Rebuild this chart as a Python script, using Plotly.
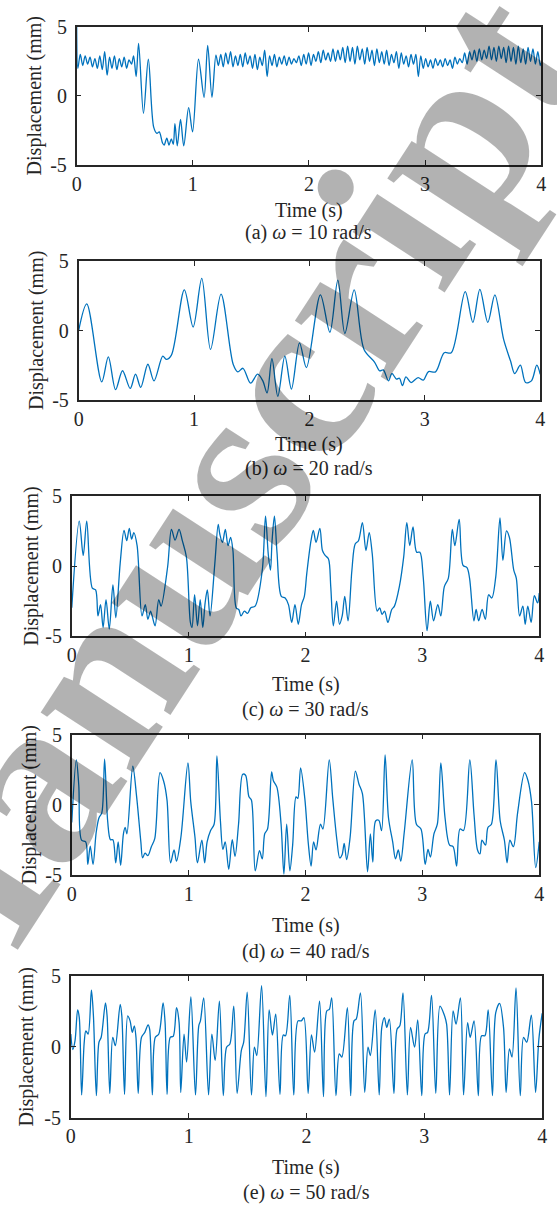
import plotly.graph_objects as go

W, H = 557, 1215

# ---------------- data ----------------
t_a = [0.000, 0.010, 0.031, 0.052, 0.073, 0.094, 0.115, 0.136, 0.157, 0.178,
       0.199, 0.220, 0.241, 0.262, 0.283, 0.304, 0.325, 0.346, 0.367, 0.388,
       0.409, 0.430, 0.451, 0.472, 0.490, 0.512, 0.533, 0.575, 0.617, 0.663,
       0.691, 0.711, 0.739, 0.753, 0.776, 0.795, 0.815, 0.832, 0.846, 0.866,
       0.894, 0.922, 0.964, 0.998, 1.049, 1.097, 1.128, 1.165, 1.199,
       1.220, 1.241, 1.262, 1.283, 1.304, 1.325, 1.346, 1.367, 1.388, 1.409,
       1.430, 1.451, 1.472, 1.493, 1.514, 1.535, 1.556, 1.577, 1.598, 1.619,
       1.640, 1.661, 1.682, 1.703, 1.724, 1.745, 1.766, 1.787, 1.808, 1.829,
       1.850, 1.871, 1.892, 1.913, 1.934, 1.955, 1.976, 1.997, 2.018, 2.039,
       2.060, 2.081, 2.102, 2.123, 2.144, 2.165, 2.186, 2.207, 2.228, 2.249,
       2.270, 2.291, 2.312, 2.333, 2.354, 2.375, 2.396, 2.417, 2.438, 2.459,
       2.480, 2.501, 2.522, 2.543, 2.564, 2.585, 2.606, 2.627, 2.648, 2.669,
       2.690, 2.711, 2.732, 2.753, 2.774, 2.795, 2.816, 2.837, 2.858, 2.879,
       2.900, 2.921, 2.942, 2.963, 2.984, 3.005, 3.026, 3.047, 3.068, 3.089,
       3.110, 3.131, 3.152, 3.173, 3.194, 3.215, 3.236, 3.257, 3.278, 3.299,
       3.320, 3.341, 3.362, 3.383, 3.404, 3.425, 3.446, 3.467, 3.488, 3.509,
       3.530, 3.551, 3.572, 3.593, 3.614, 3.635, 3.656, 3.677, 3.698, 3.719,
       3.740, 3.761, 3.782, 3.803, 3.824, 3.845, 3.866, 3.887, 3.908, 3.929,
       3.950, 3.971, 3.992, 4.000]
y_a = [5.0, 2.0, 3.0, 2.2, 2.9, 2.3, 2.8, 2.1, 2.7, 2.0,
       2.9, 1.9, 3.2, 1.5, 2.8, 2.0, 2.9, 1.9, 2.7, 2.1,
       2.8, 2.0, 2.6, 2.3, 2.9, 1.4, 3.8, -1.25, 2.65, -2.25,
       -2.7, -2.6, -3.4, -3.55, -3.05, -3.55, -3.1, -3.5, -2.0, -3.6,
       -1.7, -3.6, -0.85, -2.6, 2.65, -0.1, 3.65, -0.1, 2.95,
       2.2, 3.0, 2.1, 3.1, 2.3, 3.2, 2.1, 2.9, 2.2, 3.0,
       2.1, 3.1, 2.3, 2.9, 2.0, 3.0, 1.9, 2.8, 2.2, 3.3,
       1.4, 2.9, 2.2, 3.0, 2.1, 2.8, 2.3, 2.9, 2.2, 2.8,
       2.3, 2.7, 2.4, 2.9, 2.2, 3.0, 2.3, 3.1, 2.2, 3.0,
       2.5, 3.2, 2.4, 3.3, 2.6, 3.1, 2.5, 3.4, 2.5, 3.3,
       2.6, 3.5, 2.4, 3.6, 2.5, 3.5, 2.3, 3.6, 2.6, 3.4,
       2.3, 3.5, 2.5, 3.3, 2.2, 3.4, 2.4, 3.2, 2.3, 3.3,
       2.2, 3.0, 2.4, 3.2, 2.0, 3.1, 2.3, 2.9, 2.1, 3.0,
       2.3, 3.0, 1.4, 2.9, 2.0, 2.7, 2.1, 2.6, 2.0, 2.7,
       2.2, 2.6, 2.1, 2.7, 2.2, 2.6, 2.0, 2.8, 2.3, 2.7,
       2.4, 3.1, 2.3, 3.2, 2.6, 3.3, 2.5, 3.4, 2.6, 3.3,
       2.7, 3.6, 2.6, 3.5, 2.5, 3.6, 2.7, 3.5, 2.4, 3.6,
       2.5, 3.5, 2.3, 3.6, 2.4, 3.4, 2.3, 3.5, 2.5, 3.4,
       2.3, 3.2, 2.2, 2.4]

t_b = [0.0, 0.07, 0.2, 0.257, 0.32, 0.38, 0.447, 0.493, 0.538, 0.6,
       0.653, 0.729, 0.759, 0.804, 0.916, 0.992, 1.067, 1.143, 1.234, 1.339,
       1.379, 1.424, 1.49, 1.551, 1.596, 1.633, 1.675, 1.726, 1.787, 1.844,
       1.914, 1.974, 2.095, 2.177, 2.246, 2.307, 2.388, 2.473, 2.564, 2.609,
       2.64, 2.685, 2.715, 2.754, 2.78, 2.806, 2.836, 2.881, 2.942, 2.987,
       3.032, 3.093, 3.168, 3.229, 3.35, 3.416, 3.477, 3.546, 3.607, 3.683,
       3.743, 3.779, 3.828, 3.873, 3.924, 3.97, 4.0]
y_b = [0.0, 1.93, -3.7, -1.9, -4.27, -2.9, -4.18, -3.15, -4.1, -2.43,
       -3.63, -1.84, -2.08, -1.77, 2.94, 0.26, 3.77, -1.36, 2.63, -2.43,
       -2.98, -2.72, -3.8, -3.15, -3.63, -4.5, -2.03, -4.75, -1.84, -4.22,
       -0.88, -2.67, 2.58, -0.12, 3.65, -0.21, 2.94, -1.36, -2.27, -2.91,
       -2.84, -3.63, -3.1, -3.5, -3.44, -3.98, -3.34, -3.75, -3.39, -3.58,
       -2.96, -2.98, -1.6, -1.6, 2.82, 0.6, 2.98, 0.6, 2.58, -0.64,
       -2.2, -3.1, -2.5, -3.75, -3.63, -2.5, -3.15]

t_c = [0.0, 0.064, 0.098, 0.128, 0.176, 0.204, 0.224, 0.246, 0.268, 0.293,
       0.321, 0.352, 0.377, 0.414, 0.447, 0.47, 0.492, 0.512, 0.531, 0.559,
       0.601, 0.629, 0.651, 0.674, 0.688, 0.713, 0.744, 0.764, 0.82, 0.853,
       0.884, 0.918, 0.946, 0.981, 1.015, 1.029, 1.051, 1.076, 1.099, 1.121,
       1.141, 1.16, 1.183, 1.224, 1.253, 1.267, 1.289, 1.314, 1.337, 1.359,
       1.379, 1.407, 1.429, 1.448, 1.477, 1.504, 1.532, 1.569, 1.63, 1.658,
       1.681, 1.7, 1.714, 1.734, 1.756, 1.793, 1.826, 1.854, 1.882, 1.91,
       1.938, 1.966, 1.99, 2.011, 2.047, 2.067, 2.09, 2.123, 2.145, 2.168,
       2.196, 2.216, 2.238, 2.266, 2.291, 2.314, 2.336, 2.364, 2.397, 2.425,
       2.453, 2.487, 2.517, 2.545, 2.571, 2.613, 2.635, 2.655, 2.677, 2.705,
       2.738, 2.761, 2.803, 2.84, 2.867, 2.892, 2.92, 2.951, 2.979, 3.007,
       3.04, 3.068, 3.096, 3.132, 3.158, 3.188, 3.222, 3.256, 3.278, 3.315,
       3.348, 3.382, 3.404, 3.441, 3.46, 3.482, 3.511, 3.539, 3.567, 3.594,
       3.628, 3.664, 3.689, 3.72, 3.745, 3.782, 3.804, 3.832, 3.86, 3.88,
       3.902, 3.931, 3.958, 3.986, 4.0]
y_c = [-2.96, 3.22, 0.77, 3.22, -1.56, -1.68, -3.54, -2.73, -4.36, -2.38,
       -4.48, -1.33, -3.66, 0.19, 2.56, 1.82, 2.7, 1.93, 2.4, 1.47,
       -3.54, -2.73, -3.78, -3.19, -3.54, -4.24, -2.38, -2.84, -0.05, 2.63,
       1.86, 2.63, 1.82, 0.65, -4.0, -4.36, -2.03, -4.24, -2.38, -4.36,
       -2.61, -1.68, -3.54, 0.19, 2.98, 2.28, 1.7, 2.63, 1.47, 2.05,
       1.12, -2.96, -3.08, -3.54, -3.19, -3.36, -2.96, -2.84, -0.28, 3.57,
       0.89, -0.28, 1.82, 3.57, 1.0, -2.14, -2.26, -2.73, -4.0, -2.73,
       -4.13, -2.73, -2.14, -0.51, 1.82, 2.56, 1.7, 2.7, 1.12, 0.77,
       0.54, -1.45, -4.24, -2.49, -4.13, -3.54, -2.14, -3.89, -0.28, 1.59,
       1.82, 3.1, 1.12, 2.4, 0.89, -3.19, -2.96, -3.43, -3.19, -4.0,
       -3.08, -2.84, -1.45, 0.65, 3.1, 1.47, 2.8, 1.0, 1.0, -0.75,
       -4.59, -2.49, -3.89, -2.73, -3.54, -1.45, -0.86, 2.63, 1.47, 3.33,
       0.07, -0.09, -0.86, -3.89, -3.08, -3.89, -3.08, -3.78, -2.03, -2.26,
       -0.75, 3.45, 0.42, 2.52, 2.05, -0.28, -0.86, -3.54, -2.84, -4.13,
       -2.84, -4.0, -2.1, -2.61, -1.91]

t_d = [0.0, 0.039, 0.06, 0.084, 0.119, 0.137, 0.158, 0.182, 0.209, 0.233,
       0.257, 0.281, 0.307, 0.331, 0.352, 0.376, 0.397, 0.418, 0.442, 0.457,
       0.472, 0.522, 0.555, 0.591, 0.606, 0.627, 0.651, 0.681, 0.71, 0.755,
       0.785, 0.815, 0.845, 0.875, 0.896, 0.934, 0.994, 1.018, 1.054, 1.075,
       1.113, 1.137, 1.158, 1.188, 1.218, 1.242, 1.272, 1.293, 1.313, 1.343,
       1.373, 1.397, 1.427, 1.463, 1.487, 1.516, 1.537, 1.57, 1.606, 1.63,
       1.651, 1.675, 1.71, 1.725, 1.755, 1.791, 1.815, 1.839, 1.866, 1.89,
       1.919, 1.934, 1.958, 1.994, 2.024, 2.048, 2.069, 2.09, 2.128, 2.149,
       2.203, 2.233, 2.269, 2.293, 2.313, 2.331, 2.352, 2.382, 2.427, 2.457,
       2.487, 2.531, 2.555, 2.576, 2.6, 2.627, 2.651, 2.681, 2.71, 2.746,
       2.77, 2.794, 2.815, 2.845, 2.913, 2.949, 2.988, 3.024, 3.048, 3.069,
       3.099, 3.128, 3.158, 3.194, 3.233, 3.263, 3.293, 3.322, 3.352, 3.406,
       3.442, 3.472, 3.493, 3.51, 3.54, 3.561, 3.591, 3.63, 3.666, 3.702,
       3.725, 3.749, 3.779, 3.815, 3.875, 3.904, 3.934, 3.97, 4.0]
y_d = [-1.26, 3.21, 1.38, -2.52, -2.64, -4.24, -2.94, -4.24, -1.95, -0.92,
       -0.57, 3.26, -1.15, -2.48, -2.48, -4.13, -2.64, -4.31, -2.06, -1.61,
       -2.06, 2.75, 0.57, -2.64, -3.78, -3.44, -3.62, -2.98, -2.41, 2.29,
       1.72, 0.34, -4.13, -3.21, -4.01, -2.29, 2.98, 0.23, -2.29, -4.13,
       -2.52, -4.13, -2.64, -1.83, -1.38, 3.49, -1.15, -3.17, -2.64, -4.59,
       -2.48, -3.67, -1.38, 2.18, 2.11, 0.57, 0.34, -4.7, -3.26, -3.85,
       -2.06, -1.72, 2.34, 1.72, 1.26, -1.38, -4.93, -1.38, -4.7, -2.87,
       0.57, 0.46, 2.64, 0.46, -2.75, -4.36, -2.64, -3.21, -1.38, -1.72,
       3.21, 0.46, -2.52, -3.78, -3.55, -2.75, -3.9, -2.29, 2.41, 1.49,
       0.8, -4.77, -2.06, -4.08, -1.15, -1.1, -1.83, 3.56, -0.92, -2.64,
       -3.85, -3.21, -4.01, -1.95, 3.21, -1.38, -1.72, -4.24, -3.17, -3.72,
       -2.06, -1.38, 2.98, -0.92, -2.87, -2.98, -4.36, -1.72, -1.83, 3.21,
       -0.69, -3.21, -3.49, -2.52, -2.87, -1.61, -1.38, 3.21, -1.15, -2.52,
       -4.13, -2.52, -2.98, -0.57, 2.29, 1.72, 0.23, -4.47, -2.64]

t_e = [0.0, 0.017, 0.036, 0.058, 0.072, 0.092, 0.114, 0.128, 0.147, 0.175,
       0.192, 0.217, 0.239, 0.258, 0.294, 0.308, 0.331, 0.356, 0.378, 0.419,
       0.433, 0.456, 0.483, 0.503, 0.522, 0.539, 0.553, 0.572, 0.6, 0.628,
       0.656, 0.669, 0.692, 0.717, 0.747, 0.783, 0.8, 0.817, 0.844, 0.869,
       0.897, 0.919, 0.933, 0.961, 0.983, 1.019, 1.058, 1.086, 1.1, 1.128,
       1.169, 1.197, 1.225, 1.261, 1.294, 1.322, 1.35, 1.383, 1.411, 1.447,
       1.467, 1.497, 1.533, 1.558, 1.578, 1.619, 1.656, 1.683, 1.711, 1.739,
       1.775, 1.803, 1.822, 1.858, 1.892, 1.928, 1.956, 1.978, 2.014, 2.042,
       2.069, 2.111, 2.144, 2.172, 2.194, 2.214, 2.25, 2.278, 2.3, 2.347,
       2.375, 2.403, 2.422, 2.458, 2.494, 2.522, 2.542, 2.583, 2.617, 2.639,
       2.661, 2.681, 2.703, 2.742, 2.769, 2.792, 2.819, 2.856, 2.883, 2.917,
       2.944, 2.978, 3.006, 3.028, 3.061, 3.097, 3.133, 3.167, 3.189, 3.214,
       3.244, 3.269, 3.306, 3.333, 3.367, 3.389, 3.422, 3.458, 3.486, 3.514,
       3.542, 3.578, 3.606, 3.639, 3.672, 3.694, 3.722, 3.744, 3.778, 3.814,
       3.842, 3.869, 3.908, 3.944, 3.972, 4.0]
y_e = [0.91, -0.19, 0.44, 2.61, 2.07, -3.4, 0.33, 1.14, 0.91, 4.01,
       2.19, -3.45, 0.33, 0.68, 3.12, 2.19, -3.29, 0.68, 0.09, 3.01,
       2.19, -3.36, 2.19, 1.84, 1.03, 1.49, 0.68, -3.29, 0.68, 1.03,
       1.56, 1.26, -3.4, 0.68, 0.91, 3.12, 1.72, -3.36, 0.68, 0.75,
       2.77, 1.72, -3.22, 0.91, -1.07, 3.54, -3.4, 1.49, 1.84, 3.47,
       -3.4, 0.91, -0.96, 3.24, -3.45, -0.02, 0.21, 2.89, -3.29, -0.26,
       0.33, 3.87, -3.4, -0.02, -0.61, 4.34, -3.52, 2.61, 0.84, 2.31,
       -3.36, 0.84, 0.79, 3.64, -3.4, 1.84, 1.84, 2.07, -3.29, 0.84,
       -0.37, 3.24, -3.52, 2.54, 2.66, 3.47, -3.45, -0.49, -0.72, 2.77,
       -3.45, 1.84, 1.96, 3.82, -3.22, -0.02, -0.61, 2.61, -3.4, 1.38,
       2.07, 1.38, 1.96, -3.29, 1.26, 1.49, 3.82, -3.4, 1.38, -0.02,
       1.91, -3.45, 0.91, 1.03, 3.64, -3.29, 2.89, 2.31, 1.61, -3.4,
       2.54, 1.61, 3.47, -3.4, 1.72, 0.68, 1.84, -3.45, 0.79, 0.79,
       2.61, -3.45, 2.42, 3.08, 1.38, -3.22, -0.14, -0.72, 4.17, -3.45,
       0.68, 0.33, 2.24, -3.22, 0.56, 2.38]

x_ticks = [0, 1, 2, 3, 4]
y_ticks = [-5, 0, 5]
y_ticktext = ["-5", "0", "5"]
captions = ["(a) <i>ω</i> = 10 rad/s", "(b) <i>ω</i> = 20 rad/s",
            "(c) <i>ω</i> = 30 rad/s", "(d) <i>ω</i> = 40 rad/s",
            "(e) <i>ω</i> = 50 rad/s"]
series = [(t_a, y_a), (t_b, y_b), (t_c, y_c), (t_d, y_d), (t_e, y_e)]

# ---------------- layout geometry (pixels) ----------------
boxes = [(73, 546, 16, 157), (75, 545, 255, 396), (68, 544, 494, 637),
         (68, 544, 737, 880), (67, 547, 983, 1127)]
time_y = [203, 442, 686, 931, 1178]
cap_y = [226, 466, 711, 958, 1203]
ytitle_x = [30, 32, 27, 25, 22]

FONT = "Liberation Serif"
AX = "#262626"
fig = go.Figure()
layout = {}
annotations = []
for i, ((t, y), (x0, x1, y0, y1)) in enumerate(zip(series, boxes)):
    n = "" if i == 0 else str(i + 1)
    fig.add_trace(go.Scatter(
        x=t, y=y, mode="lines", xaxis="x" + n, yaxis="y" + n,
        line=dict(color="#0072BD", width=1.3, shape="spline", smoothing=0.9),
        showlegend=False, hoverinfo="skip"))
    common = dict(showgrid=False, zeroline=False, showline=True, linecolor=AX,
                  linewidth=1.6, mirror="ticks", ticks="inside", ticklen=5,
                  tickwidth=1.4, tickcolor=AX,
                  tickfont=dict(family=FONT, size=20, color=AX))
    layout["xaxis" + n] = dict(common, domain=[x0 / W, x1 / W], range=[0, 4],
                               tickvals=x_ticks, anchor="y" + n,
                               ticklabelstandoff=0)
    layout["yaxis" + n] = dict(common, domain=[1 - y1 / H, 1 - y0 / H],
                               range=[-5, 5], tickvals=y_ticks,
                               ticktext=y_ticktext, anchor="x" + n,
                               ticklabelstandoff=4)
    cx = (x0 + x1) / 2
    annotations.append(dict(text="Time (s)", x=cx / W, y=1 - time_y[i] / H,
                            xref="paper", yref="paper", showarrow=False,
                            xanchor="center", yanchor="middle",
                            font=dict(family=FONT, size=20, color=AX)))
    annotations.append(dict(text=captions[i], x=cx / W, y=1 - cap_y[i] / H,
                            xref="paper", yref="paper", showarrow=False,
                            xanchor="center", yanchor="middle",
                            font=dict(family=FONT, size=20, color=AX)))
    annotations.append(dict(text="Displacement (mm)", x=ytitle_x[i] / W,
                            y=1 - ((y0 + y1) / 2) / H, xref="paper",
                            yref="paper", showarrow=False, textangle=-90,
                            xanchor="center", yanchor="middle",
                            font=dict(family=FONT, size=20, color=AX)))

# watermark
annotations.append(dict(text="<b>Manuscript</b>", x=198 / W, y=1 - 519 / H,
                        xref="paper", yref="paper", showarrow=False,
                        textangle=-57, xanchor="center", yanchor="middle",
                        font=dict(family=FONT, size=240,
                                  color="rgba(0,0,0,0.3)")))

fig.update_layout(width=W, height=H, margin=dict(l=0, r=0, t=0, b=0),
                  paper_bgcolor="white", plot_bgcolor="white",
                  annotations=annotations, **layout)
fig.write_html("out.html")
with open("out.html", encoding="utf-8") as f:
    html = f.read()
html = html.replace("<body>", '<body style="margin:0">', 1)
with open("out.html", "w", encoding="utf-8") as f:
    f.write(html)
